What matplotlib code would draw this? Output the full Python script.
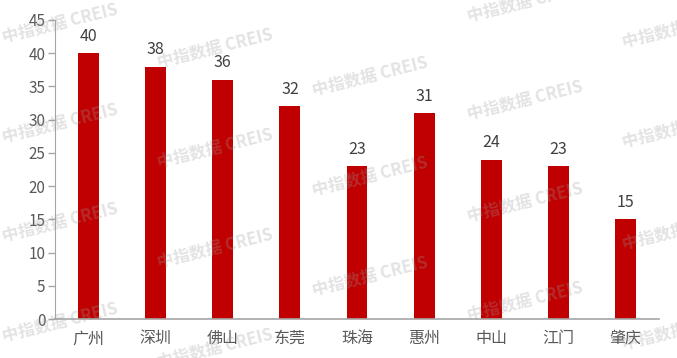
import matplotlib
matplotlib.use("Agg")
import matplotlib.pyplot as plt

plt.rcParams['font.family'] = ['Noto Sans CJK SC', 'DejaVu Sans']

cities = ["广州", "深圳", "佛山", "东莞", "珠海", "惠州", "中山", "江门", "肇庆"]
values = [40, 38, 36, 32, 23, 31, 24, 23, 15]
yticks = [0, 5, 10, 15, 20, 25, 30, 35, 40, 45]
watermark = "中指数据 CREIS"

W, H = 677, 358
fig = plt.figure(figsize=(W / 100, H / 100), dpi=100)
ax = fig.add_axes([55 / W, (H - 319) / H, (659 - 55) / W, (319 - 20) / H])

x = list(range(len(cities)))
ax.bar(x, values, width=0.31, color="#C00000", zorder=2)
for xi, v in zip(x, values):
    ax.annotate(str(v), (xi, v), xytext=(0, 6), textcoords="offset points",
                ha="center", va="bottom", fontsize=11.5, color="#404040")

ax.set_xlim(-0.5, len(cities) - 0.5)
ax.set_ylim(0, 45)
ax.set_yticks(yticks)
ax.set_xticks(x)
ax.set_xticklabels(cities, fontsize=11.5, color="#595959")
ax.tick_params(axis="y", labelsize=11, labelcolor="#595959", color="#a6a6a6",
               length=5, width=1, pad=2)
ax.tick_params(axis="x", length=0, pad=8)
for s in ["top", "right"]:
    ax.spines[s].set_visible(False)
ax.spines["left"].set_color("#a6a6a6")
ax.spines["bottom"].set_color("#a6a6a6")
ax.spines["bottom"].set_linewidth(1.2)

# watermark centres in pixel coords (x from left, y from top)
wm_centres = [(60, 23), (60, 123), (60, 222), (60, 322),
              (215, 48), (215, 148), (215, 248), (215, 348),
              (370, 76), (370, 176), (370, 276),
              (525, 2), (525, 100), (525, 202), (525, 301),
              (680, 28), (680, 128), (680, 230), (680, 330)]
for cx, cy in wm_centres:
    fig.text(cx / W, 1 - cy / H, watermark, fontsize=12, fontweight="bold",
             color="#9a9a9a", alpha=0.28, rotation=14, ha="center", va="center",
             rotation_mode="anchor", zorder=10)

fig.savefig("out.png", dpi=100)
